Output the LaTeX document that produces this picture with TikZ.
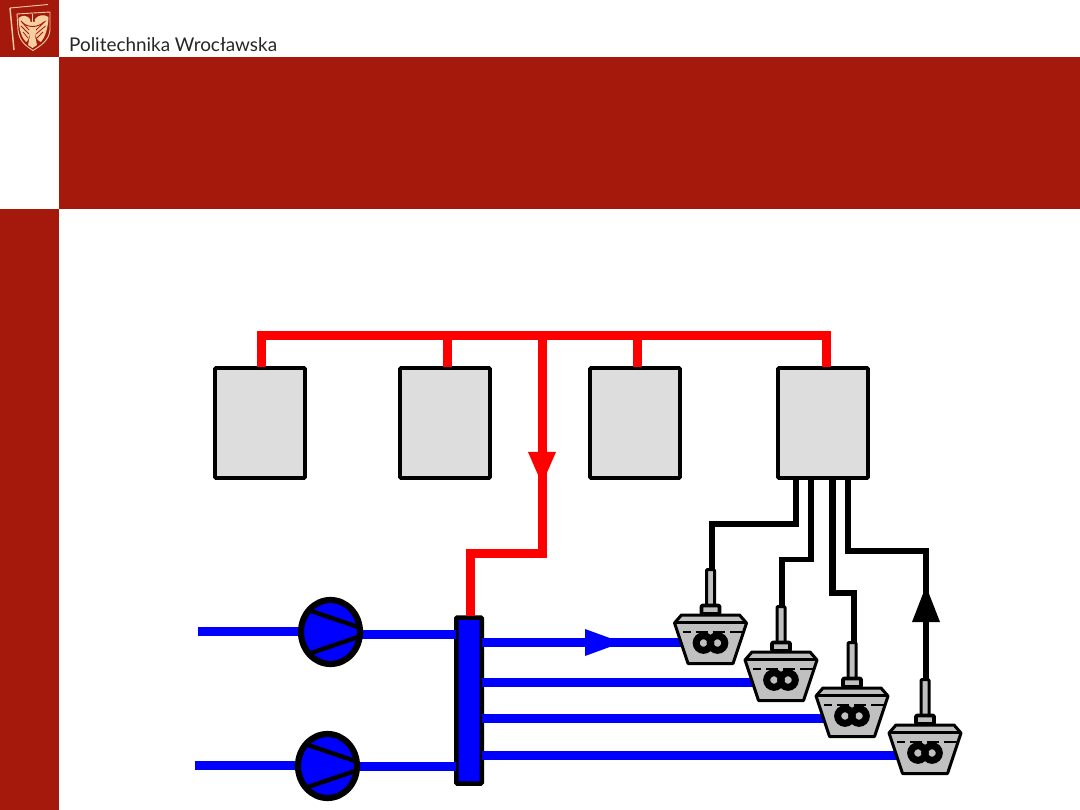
\documentclass[tikz,border=0pt]{standalone}
\usepackage{fontspec}
\setmainfont{Lato}
\usetikzlibrary{calc,shapes.geometric}
\definecolor{pwred}{HTML}{A5190D}
\definecolor{boxgray}{HTML}{DDDDDD}
\definecolor{tankgray}{HTML}{C0C0C0}
\definecolor{crest}{HTML}{F6CFA0}
\definecolor{pure}{rgb}{0,0,1}
\definecolor{purered}{rgb}{1,0,0}
\tikzset{
 px/.style={x=1pt,y=-1pt},
 band/.style={fill=pwred,draw=none},
 redpipe/.style={draw=purered,line width=9pt},
 bluepipe/.style={draw=pure,line width=9pt},
 wire/.style={draw=black,line width=5.6pt},
 unit/.style={draw=black,line width=3.8pt,fill=boxgray,rounded corners=1pt,minimum width=90pt,minimum height=110pt,inner sep=0pt},
 header/.style={draw=black,line width=4.5pt,fill=pure,rounded corners=1pt,minimum width=25.5pt,minimum height=166pt,inner sep=0pt},
 pump/.style={ellipse,draw=black,line width=6.2pt,fill=pure,minimum width=59pt,minimum height=64pt,inner sep=0pt},
 pumpbar/.style={draw=black,line width=4.4pt},
 tankline/.style={draw=black,line width=3pt,fill=tankgray,line join=round},
}
\newcommand{\tank}[2]{% name, top-centre of the body
 \begin{scope}[shift={(#2)}]
  \draw[tankline,rounded corners=1pt] (-4,-45.5) rectangle (4,-9);
  \draw[tankline,line width=3.7pt,rounded corners=1pt] (-9,-9.5) rectangle (9,-1);
  \draw[tankline] (-36,8) -- (-29,0) -- (29,0) -- (36,8) -- (22.5,48.5) -- (-22.5,48.5) -- cycle;
  \draw[black,line width=2.8pt] (-35,7.5) -- (35,7.5);
  \draw[black,line width=2.2pt] (-28,17) -- (-20,17) (-15,17) -- (-3,17) (2,17) -- (14,17) (19,17) -- (32,17);
  \draw[black,line width=7pt] (-7,28) circle (7.3pt) (7,28) circle (7.3pt);
 \end{scope}
}
\begin{document}
\begin{tikzpicture}[px]
\useasboundingbox (0,0) rectangle (1080,810);
\fill[white] (0,0) rectangle (1080,810);
% banner
\fill[band] (59,57) rectangle (1080,209);
\fill[band] (0,0) rectangle (59,57);
\fill[band] (0,209) rectangle (59,810);
% crest
\draw[crest,line width=.9pt] (10,8) -- (48,4.5);
\draw[crest,line width=1.4pt] (10,8) -- (14,50);
\draw[crest,line width=.9pt] (17,14) -- (50,12) -- (50,30) .. controls (49,41) and (40,46) .. (33,50.5) .. controls (26,46) and (19,41) .. (18,30) -- cycle;
\fill[crest] (18.5,18) .. controls (22,15) and (27,15) .. (30,19) -- (31,25) -- (30,33) .. controls (29,38) and (28,41) .. (26,42) .. controls (22,38) and (19,30) .. (18.5,18) -- cycle;
\fill[crest] (48.5,17) .. controls (44,14) and (38,15) .. (35,19) -- (34.5,25) -- (35,33) .. controls (36,38) and (38,41) .. (41,42) .. controls (45,37) and (48,29) .. (48.5,17) -- cycle;
\fill[crest] (30,22) -- (35,22) -- (35.5,38) -- (37,45) -- (32.5,48) -- (28,45) -- (29.5,38) -- cycle;
\draw[crest,line width=1pt] (32.5,14) -- (32.5,24);
\draw[pwred,line width=.8pt] (21,21) -- (29,30) (21,26) -- (29,34) (23,32) -- (28,38) (45.5,21) -- (36,30) (45.5,26) -- (36,34) (43,32) -- (37,38);
\draw[pwred,line width=.9pt] (22,22) .. controls (27,28) and (38,28) .. (44,22);
\node[anchor=base west,inner sep=0pt,text=black!85,font=\fontsize{18.9}{20}\selectfont] (brand) at (69,52) {Politechnika Wrocławska};
% units
\node[unit] (u1) at (260,423) {};
\node[unit] (u2) at (445,423) {};
\node[unit] (u3) at (635,423) {};
\node[unit] (u4) at (823,423) {};
% hot bus
\coordinate (busl) at (261.5,336);
\coordinate (busr) at (826,336);
\coordinate (droptop) at (542.5,336);
\draw[redpipe,line join=miter] (261.5,367) -- (busl) -- (busr) -- (826,367);
\draw[redpipe] (447.5,336) -- (447.5,367);
\draw[redpipe] (637,336) -- (637,367);
% header
\node[header] (hdr) at (469,700.5) {};
\draw[redpipe,line join=miter] (droptop) -- (542.5,553.5) -- (470.5,553.5) -- (470.5,616);
\fill[purered] (542,484) coordinate (rt) -- (528,452) -- (556,452) -- cycle;
% pumps
\coordinate (p1in) at (198,631.5);
\coordinate (p2in) at (195,765.5);
\draw[bluepipe] (p1in) -- (305,631.5);
\draw[bluepipe] (p2in) -- (300,765.5);
\draw[bluepipe] (355,634.5) -- (456,634.5);
\draw[bluepipe] (355,766.5) -- (456,766.5);
\node[pump] (p1) at (330.5,632) {};
\node[pump] (p2) at (327.5,766) {};
\draw[pumpbar] (311,611) -- (358,627) (311,653) -- (358,637);
\draw[pumpbar] (308,745) -- (355,761) (308,787) -- (355,771);
% outlet pipes
\draw[bluepipe] (482,642.5) -- (690,642.5);
\draw[bluepipe] (482,682.5) -- (760,682.5);
\draw[bluepipe] (482,718.5) -- (830,718.5);
\draw[bluepipe] (482,755.5) -- (905,755.5);
\fill[pure] (622,642.5) -- (585,629) -- (585,656) -- cycle;
% signal wires
\draw[wire] (796,478) -- (796,524) -- (712,524) -- (712,572);
\draw[wire] (811,478) -- (811,559.5) -- (782,559.5) -- (782,608);
\draw[wire,line width=6.3pt] (832.5,478) -- (832.5,593) -- (854,593) -- (854,645);
\draw[wire] (848,478) -- (848,551) -- (926,551) -- (926,683);
\fill[black] (926,586) -- (912,622) -- (940,622) -- cycle;
% tanks
\tank{t1}{710.5,615}
\tank{t2}{781,652}
\tank{t3}{852,688}
\tank{t4}{925,725}
\end{tikzpicture}
\end{document}
